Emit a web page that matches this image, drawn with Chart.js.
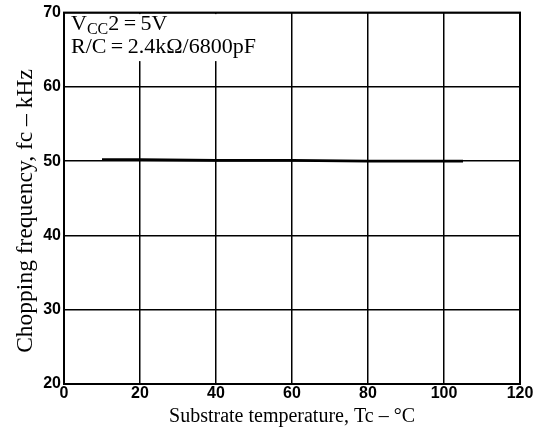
<!DOCTYPE html>
<html>
<head>
<meta charset="utf-8">
<script src="https://cdn.jsdelivr.net/npm/chart.js@4/dist/chart.umd.min.js"></script>
<style>
  html, body { margin: 0; padding: 0; background: #fff; }
  #wrap { width: 538px; height: 432px; }
</style>
</head>
<body>
<div id="wrap"><canvas id="c" width="538" height="432"></canvas></div>
<script>
// values
const temps = [10, 20, 40, 60, 80, 100, 105];
const freqs = [50.2, 50.2, 50.1, 50.1, 50.0, 50.0, 50.0];
const xTicks = [0, 20, 40, 60, 80, 100, 120];
const yTicks = [20, 30, 40, 50, 60, 70];
const noteLines = ["V|CC|2\u2009=\u20095V", "R/C\u2009=\u20092.4kΩ/6800pF"];
const yTitle = "Chopping frequency, fc – kHz";

const serif = "'Liberation Serif', 'DejaVu Serif', serif";
const tickFont = { family: "'Liberation Sans', Arial, sans-serif", size: 16, weight: "bold" };

// white note box in the top-left corner, drawn over the grid
const notePlugin = {
  id: "note",
  beforeDatasetsDraw(chart) {
    const { ctx, chartArea } = chart;
    ctx.save();
    ctx.fillStyle = "#fff";
    ctx.fillRect(chartArea.left + 1.5, chartArea.top + 1.5, 222, 47);
    ctx.fillStyle = "#000";
    ctx.textBaseline = "alphabetic";
    let x = chartArea.left + 7;
    let y = chartArea.top + 17;
    // first line: V with subscript CC
    const parts = noteLines[0].split("|");
    ctx.font = "22px " + serif;
    ctx.fillText(parts[0], x, y);
    x += ctx.measureText(parts[0]).width;
    ctx.font = "16px " + serif;
    ctx.fillText(parts[1], x, y + 4);
    x += ctx.measureText(parts[1]).width;
    ctx.font = "22px " + serif;
    ctx.fillText(parts[2], x, y);
    ctx.fillText(noteLines[1], chartArea.left + 7, y + 23);
    ctx.restore();
  },
  afterDraw(chart) {
    const { ctx, chartArea } = chart;
    ctx.save();
    ctx.strokeStyle = "#000";
    ctx.lineWidth = 2;
    ctx.strokeRect(chartArea.left, chartArea.top, chartArea.right - chartArea.left, chartArea.bottom - chartArea.top);
    // y axis title
    ctx.translate(32, 211);
    ctx.rotate(-Math.PI / 2);
    ctx.font = "23.5px " + serif;
    ctx.fillStyle = "#000";
    ctx.textAlign = "center";
    ctx.textBaseline = "alphabetic";
    ctx.fillText(yTitle, 0, 0);
    ctx.restore();
  }
};

new Chart(document.getElementById("c"), {
  type: "line",
  data: {
    datasets: [{
      data: temps.map((t, i) => ({ x: t, y: freqs[i] })),
      borderColor: "#000",
      borderWidth: 2.8,
      pointRadius: 0,
      tension: 0,
      fill: false
    }]
  },
  options: {
    responsive: false,
    animation: false,
    layout: { padding: { top: 12, right: 18, left: 0, bottom: 0 } },
    plugins: { legend: { display: false }, tooltip: { enabled: false } },
    scales: {
      x: {
        type: "linear",
        min: 0, max: 120,
        afterBuildTicks(axis) { axis.ticks = xTicks.map(v => ({ value: v })); },
        afterFit(axis) { axis.height = 48; },
        grid: { color: "#000", lineWidth: 1.5, drawTicks: false },
        border: { color: "#000", width: 2 },
        ticks: { color: "#000", font: tickFont, padding: 0, maxRotation: 0 },
        title: {
          display: true,
          text: "Substrate temperature, Tc – °C",
          color: "#000",
          font: { family: serif, size: 20 },
          padding: { top: 0, bottom: 3 }
        }
      },
      y: {
        min: 20, max: 70,
        afterBuildTicks(axis) { axis.ticks = yTicks.map(v => ({ value: v })); },
        afterFit(axis) { axis.width = 64; },
        grid: { color: "#000", lineWidth: 1.5, drawTicks: false },
        border: { color: "#000", width: 2 },
        ticks: { color: "#000", font: tickFont, padding: 3 }
      }
    }
  },
  plugins: [notePlugin]
});
</script>
</body>
</html>
